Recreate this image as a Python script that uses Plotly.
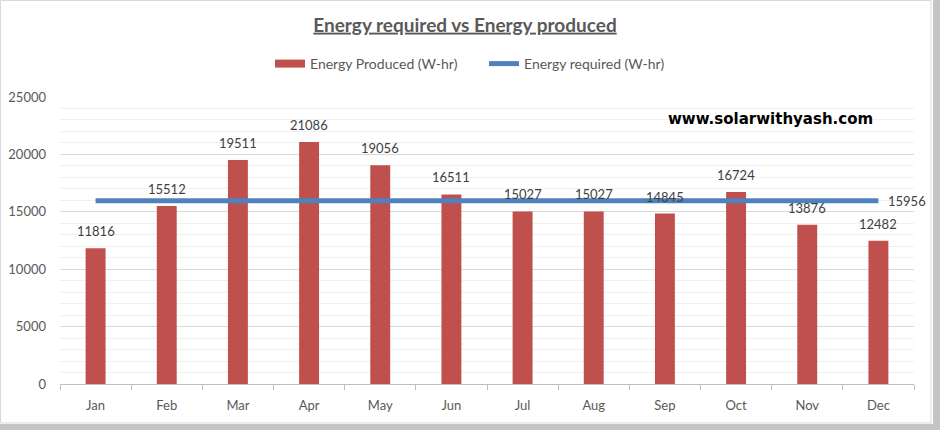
import plotly.graph_objects as go

months = ["Jan", "Feb", "Mar", "Apr", "May", "Jun", "Jul", "Aug", "Sep", "Oct", "Nov", "Dec"]
energy_produced = [11816, 15512, 19511, 21086, 19056, 16511, 15027, 15027, 14845, 16724, 13876, 12482]
energy_required = [15956] * 12
y_ticks = [0, 5000, 10000, 15000, 20000, 25000]

W, H = 940, 430
L, R, T, B = 60, 26, 97, 46
PW, PH = W - L - R, H - T - B

def px(x):  # pixel x -> paper x
    return (x - L) / PW

def py(y):  # pixel y -> paper y
    return (H - B - y) / PH

FONT = "Lato, 'Open Sans', sans-serif"
GREY = "#595959"
RED = "#C0504D"
BLUE = "#4F81BD"

fig = go.Figure()
fig.add_trace(go.Bar(
    x=months, y=energy_produced, name="Energy Produced (W-hr)",
    marker=dict(color=RED, line=dict(width=0)),
    width=0.28, hoverinfo="skip", showlegend=False,
))
# legend proxy so the legend key is a wide red bar, as in the reference
fig.add_trace(go.Scatter(
    x=[None], y=[None], name="Energy Produced (W-hr)", mode="lines",
    line=dict(color=RED, width=8), hoverinfo="skip",
))
fig.add_trace(go.Scatter(
    x=months, y=energy_required, name="Energy required (W-hr)",
    mode="lines", line=dict(color=BLUE, width=5), hoverinfo="skip",
))

annotations = []
for m, v in zip(months, energy_produced):
    annotations.append(dict(
        x=m, y=v, text=str(v), showarrow=False, xref="x", yref="y",
        yanchor="bottom", yshift=7, font=dict(family=FONT, size=13, color="#404040"),
    ))
annotations.append(dict(
    x=months[-1], y=energy_required[-1], text=str(energy_required[-1]), showarrow=False,
    xref="x", yref="y", xanchor="left", yanchor="middle", xshift=8,
    font=dict(family=FONT, size=13, color="#404040"),
))
annotations.append(dict(
    x=px(770), y=py(119), xref="paper", yref="paper", text="<b>www.solarwithyash.com</b>",
    showarrow=False, xanchor="center", yanchor="middle",
    font=dict(family="'DejaVu Sans', Verdana, sans-serif", size=15, color="#000000"),
))

shapes = [
    # chart-area border
    dict(type="rect", xref="paper", yref="paper", x0=px(0.5), x1=px(931), y0=py(423), y1=py(0.5),
         line=dict(color="#d9d9d9", width=1), fillcolor="rgba(0,0,0,0)", layer="below"),
    # dotted selection strips (right and bottom)
    dict(type="rect", xref="paper", yref="paper", x0=px(933), x1=px(941), y0=py(431), y1=py(0),
         line=dict(width=0), fillcolor="#c4c4c4", layer="below"),
    dict(type="rect", xref="paper", yref="paper", x0=px(0), x1=px(941), y0=py(431), y1=py(424),
         line=dict(width=0), fillcolor="#c4c4c4", layer="below"),
]

fig.update_layout(
    width=W, height=H,
    margin=dict(l=L, r=R, t=T, b=B, autoexpand=False),
    paper_bgcolor="white", plot_bgcolor="white",
    title=dict(text="<b><u>Energy required vs Energy produced</u></b>",
               xref="container", x=465 / W, xanchor="center",
               yref="container", y=1 - 25 / H, yanchor="middle",
               font=dict(family=FONT, size=19, color=GREY)),
    legend=dict(orientation="h", x=px(484), xanchor="center", y=py(64), yanchor="middle",
                font=dict(family=FONT, size=14, color=GREY), bgcolor="rgba(0,0,0,0)",
                itemwidth=30, tracegroupgap=0, entrywidth=169, entrywidthmode="pixels"),
    showlegend=True,
    annotations=annotations,
    shapes=shapes,
    hovermode=False,
)
fig.update_xaxes(
    type="category", showgrid=False, showline=True, linecolor="#bfbfbf", linewidth=1,
    ticks="outside", tickson="boundaries", ticklen=5, tickcolor="#bfbfbf",
    tickfont=dict(family=FONT, size=13, color=GREY), ticklabelstandoff=9,
    range=[-0.5, 11.5],
)
fig.update_yaxes(
    range=[0, 25000], tickvals=y_ticks, ticktext=[str(t) for t in y_ticks],
    showgrid=True, gridcolor="#d9d9d9", gridwidth=1, zeroline=False,
    minor=dict(dtick=1000, showgrid=True, gridcolor="#f0f0f0", gridwidth=1),
    tickfont=dict(family=FONT, size=13, color=GREY), ticklabelstandoff=13,
    showline=False,
)

fig.write_html(
    "out.html",
    config={"displayModeBar": False},
    post_script="document.body.style.margin='0';document.body.style.overflow='hidden';",
)
